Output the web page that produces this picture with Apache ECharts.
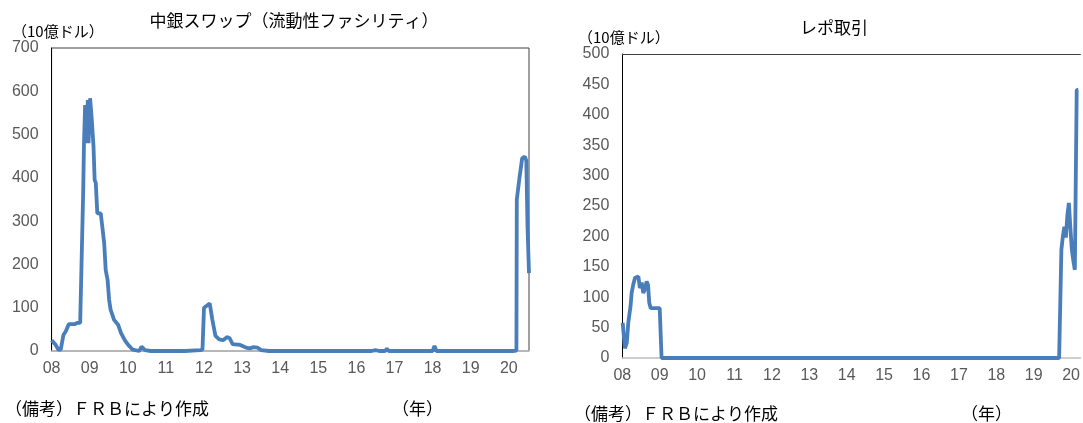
<!DOCTYPE html>
<html>
<head>
<meta charset="utf-8">
<script src="https://cdn.jsdelivr.net/npm/echarts@6/dist/echarts.min.js"></script>
<style>
html,body{margin:0;padding:0;background:#fff;}
#c{width:1083px;height:423px;}
</style>
</head>
<body>
<div id="c"></div>
<script>
// 中銀スワップ（流動性ファシリティ） 10億ドル
const swapYears = [2008.00,2008.05,2008.10,2008.18,2008.24,2008.31,2008.37,2008.45,2008.60,2008.68,2008.75,2008.79,2008.83,2008.85,2008.88,2008.92,2008.95,2008.97,2009.01,2009.05,2009.10,2009.13,2009.16,2009.20,2009.29,2009.34,2009.38,2009.42,2009.47,2009.51,2009.55,2009.64,2009.75,2009.82,2009.92,2010.01,2010.13,2010.30,2010.36,2010.45,2010.60,2011.00,2011.50,2011.90,2011.96,2012.00,2012.08,2012.15,2012.19,2012.22,2012.30,2012.40,2012.50,2012.60,2012.67,2012.75,2012.95,2013.10,2013.20,2013.30,2013.40,2013.50,2013.70,2014.50,2015.50,2016.40,2016.50,2016.60,2016.75,2016.80,2016.85,2016.98,2017.03,2017.08,2017.25,2017.30,2017.35,2017.50,2017.53,2017.56,2017.75,2017.80,2017.85,2018.00,2018.05,2018.10,2018.27,2018.30,2018.33,2018.98,2019.03,2019.08,2019.93,2019.98,2020.03,2020.10,2020.20,2020.21,2020.28,2020.35,2020.42,2020.46,2020.49,2020.53];
const swapValues = [25,25,15,3,3,37,45,62,62,65,65,65,372,480,568,480,580,480,584,541,472,395,388,318,318,280,249,187,164,118,95,72,60,42,25,14,3,0,10,2,0,0,0,2,3,100,105,110,108,72,35,27,25,32,30,16,14,8,6,9,8,2,0,0,0,0,2,0,0,5,0,0,3,0,0,3,0,0,2,0,0,2,0,0,12,0,0,3,0,0,3,0,0,4,0,0,1,350,400,445,449,440,290,180];

// レポ取引 10億ドル
const repoYears = [2008.01,2008.07,2008.12,2008.16,2008.22,2008.25,2008.29,2008.34,2008.43,2008.47,2008.52,2008.56,2008.60,2008.65,2008.69,2008.72,2008.76,2009.00,2009.05,2012.00,2016.00,2019.68,2019.74,2019.78,2019.82,2019.86,2019.90,2019.94,2019.98,2020.02,2020.06,2020.10,2020.15,2020.19,2020.26];
const repoValues = [58,16,25,58,85,107,120,132,134,115,124,107,112,126,120,91,82,82,0,0,0,0,178,200,216,198,235,255,215,178,160,145,441,441];

const yearTicks = ['08','09','10','11','12','13','14','15','16','17','18','19','20'];

const swapData = swapYears.map((x,i)=>[x, swapValues[i]]);
const repoData = repoYears.map((x,i)=>[x, repoValues[i]]);

const numFont = "'Liberation Sans Narrow','Liberation Sans',sans-serif";
const jpFont = "'Noto Sans CJK JP',sans-serif";
const lineColor = '#4a7ebb';

function xAxisCfg(gi, max){
  return {
    type:'value', gridIndex:gi, min:2008, max:max, interval:1,
    axisLine:{show:true, lineStyle:{color:'#bfbfbf', width:1.5}},
    axisTick:{show:false}, splitLine:{show:false},
    axisLabel:{color:'#595959', fontSize:16, fontFamily:numFont, margin:10,
      showMaxLabel:false,
      formatter:(v)=>{const i=Math.round(v-2008); return (Math.abs(v-2008-i)<1e-6 && yearTicks[i])?yearTicks[i]:'';}}
  };
}
function topAxisCfg(gi, max){
  return {
    type:'value', gridIndex:gi, position:'top', min:2008, max:max,
    axisLine:{show:true, lineStyle:{color:'#404040', width:1}},
    axisTick:{show:false}, splitLine:{show:false}, axisLabel:{show:false}
  };
}
function yAxisCfg(gi, max, interval){
  return {
    type:'value', gridIndex:gi, min:0, max:max, interval:interval,
    axisLine:{show:true, lineStyle:{color:'#000', width:1}},
    axisTick:{show:false}, splitLine:{show:false},
    axisLabel:{color:'#595959', fontSize:16, fontFamily:numFont, margin:13}
  };
}

const chart = echarts.init(document.getElementById('c'));
chart.setOption({
  animation:false,
  backgroundColor:'#fff',
  grid:[
    {left:51.6, top:48, width:477.4, height:303, show:true, borderColor:'#404040', borderWidth:1, containLabel:false},
    {left:622.3, top:54, right:0, height:304, show:false, containLabel:false}
  ],
  xAxis:[xAxisCfg(0, 2020.53), xAxisCfg(1, 2020.25), topAxisCfg(1, 2020.25)],
  yAxis:[yAxisCfg(0, 700, 100), yAxisCfg(1, 500, 50)],
  series:[
    {type:'line', xAxisIndex:0, yAxisIndex:0, data:swapData, showSymbol:false, lineStyle:{color:lineColor, width:3.8}, clip:true},
    {type:'line', xAxisIndex:1, yAxisIndex:1, data:repoData, showSymbol:false, lineStyle:{color:lineColor, width:3.8}, clip:true}
  ],
  graphic:[
    {type:'text', style:{x:294, y:21, text:'中銀スワップ（流動性ファシリティ）', fontSize:17, fontFamily:jpFont, fill:'#000', align:'center', verticalAlign:'middle'}},
    {type:'text', style:{x:12, y:31, text:'（10億ドル）', fontSize:15, fontFamily:jpFont, fill:'#000', align:'left', verticalAlign:'middle'}},
    {type:'text', style:{x:5, y:409, text:'（備考）ＦＲＢにより作成', fontSize:17, fontFamily:jpFont, fill:'#000', align:'left', verticalAlign:'middle'}},
    {type:'text', style:{x:392, y:409, text:'（年）', fontSize:17, fontFamily:jpFont, fill:'#000', align:'left', verticalAlign:'middle'}},
    {type:'text', style:{x:834, y:28, text:'レポ取引', fontSize:17, fontFamily:jpFont, fill:'#000', align:'center', verticalAlign:'middle'}},
    {type:'text', style:{x:578, y:37, text:'（10億ドル）', fontSize:15, fontFamily:jpFont, fill:'#000', align:'left', verticalAlign:'middle'}},
    {type:'text', style:{x:574, y:414, text:'（備考）ＦＲＢにより作成', fontSize:17, fontFamily:jpFont, fill:'#000', align:'left', verticalAlign:'middle'}},
    {type:'text', style:{x:961, y:414, text:'（年）', fontSize:17, fontFamily:jpFont, fill:'#000', align:'left', verticalAlign:'middle'}}
  ]
});
</script>
</body>
</html>
